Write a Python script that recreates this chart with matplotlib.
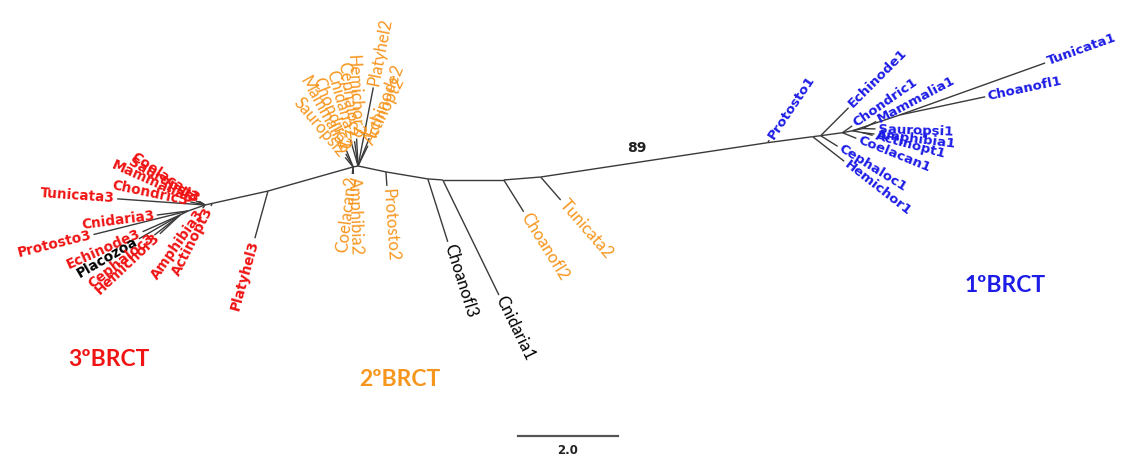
import numpy as np
import matplotlib.pyplot as plt

# Unrooted tree: each branch is (node, parent, length, angle in degrees)
node = ['R', 'P3', 'M1', 'N2', 'Q1', 'Q2', 'Q3', 'Q4', 'Q5', 'Q6',
        'A1', 'B1', 'C1', 'D1', 'E1', 'F1', 'F2', 'G3', 'K3',
        # 3rd BRCT
        'Coelacan3', 'Sauropsi3', 'Mammalia3', 'Chondric3', 'Tunicata3',
        'Amphibia3', 'Actinopt3', 'Cnidaria3', 'Protosto3', 'Echinode3',
        'Placozoa', 'Cephaloc3', 'Hemichor3', 'Platyhel3',
        # 2nd BRCT
        'Platyhel2', 'Echinode2', 'Actinopt2', 'Hemichor2', 'Cephaloc2',
        'Cnidaria2', 'Chondric2', 'Mammalia2', 'Sauropsi2', 'Coelacan2',
        'Amphibia2', 'Protosto2', 'Choanofl3', 'Cnidaria1', 'Choanofl2',
        'Tunicata2',
        # 1st BRCT
        'Protosto1', 'Hemichor1', 'Cephaloc1', 'Echinode1', 'Chondric1',
        'Coelacan1', 'Tunicata1', 'Choanofl1', 'Mammalia1', 'Sauropsi1',
        'Amphibia1', 'Actinopt1']
parent = ['H3', 'R', 'P3', 'M1', 'N2', 'Q1', 'Q2', 'Q3', 'Q4', 'Q5',
          'Q6', 'A1', 'B1', 'C1', 'D1', 'D1', 'D1', 'H3', 'G3',
          'H3', 'H3', 'H3', 'H3', 'H3',
          'H3', 'R', 'G3', 'G3', 'K3',
          'K3', 'K3', 'K3', 'P3',
          'N2', 'N2', 'N2', 'N2', 'N2',
          'N2', 'M1', 'M1', 'M1', 'M1',
          'M1', 'Q1', 'Q2', 'Q3', 'Q4',
          'Q5',
          'Q6', 'A1', 'B1', 'B1', 'C1',
          'C1', 'E1', 'E1', 'F1', 'F1',
          'F2', 'F2']
length = [0.15, 1.14, 1.77, 0.10, 0.57, 0.85, 0.30, 1.22, 0.74, 4.59,
          0.91, 0.16, 0.44, 0.20, 1.01, 0.22, 0.20, 0.36, 0.18,
          0.12, 0.15, 0.20, 0.30, 1.76,
          0.08, 0.06, 0.63, 1.95, 0.82,
          0.95, 0.65, 0.55, 0.98,
          1.60, 0.60, 0.45, 0.55, 0.50,
          0.55, 0.35, 0.30, 0.25, 0.14,
          0.14, 0.28, 1.32, 2.56, 0.75,
          0.61,
          0.06, 0.80, 0.40, 0.79, 0.24,
          0.30, 3.08, 1.74, 0.30, 0.25,
          0.25, 0.22]
angle = [12.5, 12.5, 15.8, 11, -12, -9.5, -4, 0, 4.6, 8.6,
         7.6, 7, 7.8, 11, 18.4, 12, -10, -160.6, -153,
         146, 150, 156, 168, 176,
         -125, -117, -172.6, -166, -156,
         -150, -142, -137, -105.5,
         79, 68, 64, 93, 98,
         106, 112, 119, 130, -97,
         -88, -86, -72.4, -64, -58,
         -49,
         56, -38, -32, 45, 35,
         -22, 19.7, 12, 28, -2,
         -7, -15]

red_leaves = ['Coelacan3', 'Sauropsi3', 'Mammalia3', 'Chondric3', 'Tunicata3',
              'Amphibia3', 'Actinopt3', 'Cnidaria3', 'Protosto3', 'Echinode3',
              'Cephaloc3', 'Hemichor3', 'Platyhel3']
orange_leaves = ['Platyhel2', 'Echinode2', 'Actinopt2', 'Hemichor2', 'Cephaloc2',
                 'Cnidaria2', 'Chondric2', 'Mammalia2', 'Sauropsi2', 'Coelacan2',
                 'Amphibia2', 'Protosto2', 'Choanofl2', 'Tunicata2']
black_lato = ['Choanofl3', 'Cnidaria1']

groups = ['3ºBRCT', '2ºBRCT', '1ºBRCT']
group_colors = ['#f01414', '#f7961e', '#1c1ce6']
bootstrap = '89'
scale_len = 2.0

# lay out node positions from the branch lengths and angles
pos = {'H3': (0.0, 0.0)}
for n, p, L, a in zip(node, parent, length, angle):
    px, py = pos[p]
    t = np.radians(a)
    pos[n] = (px + L * np.cos(t), py + L * np.sin(t))

fig = plt.figure(figsize=(11.21, 4.59), dpi=100)
ax = fig.add_axes([0, 0, 1, 1])
ax.set_xlim(-4.1, 18.32)
ax.set_ylim(-5.08, 4.1)
ax.axis('off')

for n, p in zip(node, parent):
    ax.plot([pos[p][0], pos[n][0]], [pos[p][1], pos[n][1]],
            color='#3a3a3a', lw=1.0, solid_capstyle='butt')

leaves = [n for n in node if n not in parent]
gap = 0.05
for n in leaves:
    a = angle[node.index(n)]
    x, y = pos[n]
    t = np.radians(a)
    x, y = x + gap * np.cos(t), y + gap * np.sin(t)
    if -90 < a <= 90:
        rot, ha = a, 'left'
    else:
        rot, ha = (a - 180 if a > 0 else a + 180), 'right'
    if n in red_leaves:
        kw = dict(color=group_colors[0], family='DejaVu Sans', weight='bold', fontsize=9.8)
    elif n in orange_leaves:
        kw = dict(color=group_colors[1], family='Lato', fontsize=12)
    elif n in black_lato:
        kw = dict(color='black', family='Lato', fontsize=12)
    elif n == 'Placozoa':
        kw = dict(color='black', family='DejaVu Sans', weight='bold', fontsize=9.8)
    else:
        kw = dict(color=group_colors[2], family='DejaVu Sans', weight='bold', fontsize=9.5)
    ax.text(x, y, n, rotation=rot, rotation_mode='anchor', ha=ha, va='center', **kw)

# support value on the long branch
ax.text(8.64, 1.14, bootstrap, ha='center', va='center',
        family='DejaVu Sans', weight='bold', fontsize=10, color='#222222')

# group titles
for label, c, (gx, gy) in zip(groups, group_colors, [(-1.92, -3.1), (3.9, -3.5), (16.0, -1.62)]):
    ax.text(gx, gy, label, ha='center', va='center', color=c,
            family='Lato', weight='bold', fontsize=16.5)

# scale bar
ax.plot([6.26, 6.26 + scale_len], [-4.62, -4.62], color='#555555', lw=1.6)
ax.text(6.26 + scale_len / 2, -4.9, f'{scale_len:.1f}', ha='center', va='center',
        family='DejaVu Sans', weight='bold', fontsize=8.5, color='#222222')

fig.savefig('out.png', dpi=100, facecolor='white')
